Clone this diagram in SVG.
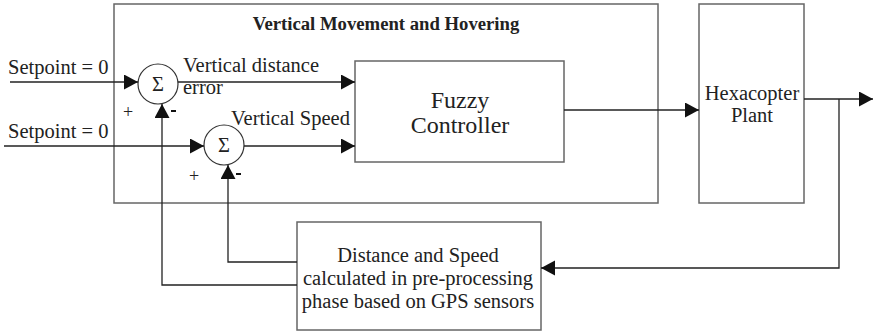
<svg xmlns="http://www.w3.org/2000/svg" width="874" height="335" viewBox="0 0 874 335" font-family="'Liberation Serif', 'Times New Roman', serif">
  <defs>
    <marker id="arrow" markerUnits="userSpaceOnUse" markerWidth="16" markerHeight="17" refX="14" refY="7.5" orient="auto">
      <path d="M0,0 L14,7.5 L0,15 z" fill="#111"/>
    </marker>
    <style>
      .box { fill: #fff; stroke: #666; stroke-width: 1.5; }
      .sum { fill: #fff; stroke: #333; stroke-width: 1.2; }
      .wire { fill: none; stroke: #222; stroke-width: 1.3; }
      .arr { marker-end: url(#arrow); }
      text { font-family: "Liberation Serif", "Times New Roman", serif; fill: #222; }
      .lbl { font-size: 20.5px; }
      .big { font-size: 24px; text-anchor: middle; }
      .mid { text-anchor: middle; }
      .title { font-size: 18.7px; font-weight: bold; text-anchor: middle; }
      .sign { font-size: 18px; }
    </style>
  </defs>

  <rect width="874" height="335" fill="#fff"/>

  <!-- outer loop block -->
  <g id="vertical-block">
    <rect class="box" x="114" y="4" width="544" height="199"/>
    <text class="title" x="386" y="30">Vertical Movement and Hovering</text>
  </g>

  <g id="fuzzy-controller">
    <rect class="box" x="355" y="61" width="209" height="101"/>
    <text class="big" x="460" y="108">Fuzzy</text>
    <text class="big" x="460" y="133">Controller</text>
  </g>

  <g id="plant">
    <rect class="box" x="699" y="4" width="105" height="199"/>
    <text class="lbl mid" x="752" y="100">Hexacopter</text>
    <text class="lbl mid" x="752" y="122">Plant</text>
  </g>

  <g id="preprocessing">
    <rect class="box" x="297" y="222" width="244" height="108"/>
    <text class="lbl mid" x="418" y="262">Distance and Speed</text>
    <text class="lbl mid" x="418" y="285">calculated in pre-processing</text>
    <text class="lbl mid" x="418" y="308">phase based on GPS sensors</text>
  </g>

  <g id="sum-distance">
    <circle class="sum" cx="158" cy="84" r="20"/>
    <text class="lbl mid" x="158" y="91">Σ</text>
  </g>

  <g id="sum-speed">
    <circle class="sum" cx="224" cy="145" r="20"/>
    <text class="lbl mid" x="224" y="152">Σ</text>
  </g>

  <!-- signal lines -->
  <g id="connectors">
    <path class="wire arr" d="M10 82 H138"/>
    <path class="wire arr" d="M4 146 H204"/>
    <path class="wire arr" d="M178 82 H355"/>
    <path class="wire arr" d="M244 146 H355"/>
    <path class="wire arr" d="M564 110 H699"/>
    <path class="wire arr" d="M804 99 H873"/>
    <path class="wire arr" d="M839 99 V268 H541"/>
    <path class="wire arr" d="M297 262 H228 V165"/>
    <path class="wire arr" d="M297 285 H162 V104"/>
  </g>

  <g id="labels">
    <text class="lbl" x="8" y="74">Setpoint = 0</text>
    <text class="lbl" x="8" y="138">Setpoint = 0</text>
    <text class="lbl" x="183" y="72">Vertical distance</text>
    <text class="lbl" x="183" y="94">error</text>
    <text class="lbl" x="231" y="125">Vertical Speed</text>
    <text class="sign" x="123" y="118">+</text>
    <text class="sign" x="189" y="182">+</text>
    <rect x="171" y="110" width="5" height="2" fill="#111"/>
    <rect x="236" y="173" width="5" height="2" fill="#111"/>
  </g>
</svg>
